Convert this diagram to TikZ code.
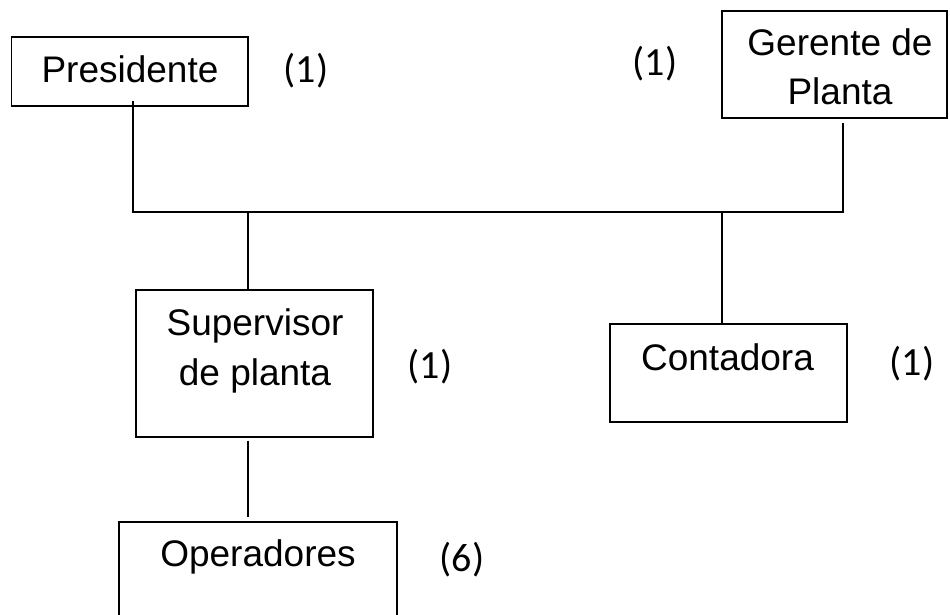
\documentclass[tikz,border=0pt]{standalone}
\usepackage{fontspec}
\setmainfont{Liberation Sans}
\newfontfamily\numfont{Carlito}
\begin{document}
\begin{tikzpicture}[x=1pt,y=-1pt,
  box/.style={draw=black,line width=1.8pt,minimum width=#1,inner sep=0pt,outer sep=0pt},
  lbl/.style={anchor=base,inner sep=0pt,font=\fontsize{37}{44}\selectfont},
  cnt/.style={anchor=base,inner sep=0pt,font=\numfont\fontsize{40}{48}\selectfont},
  conn/.style={draw=black,line width=1.8pt}]
\clip (0,0) rectangle (950,614);
% boxes
\node[box=236.5pt,minimum height=69pt] (pres) at (129.75,71.5) {};
\node[box=225.3pt,minimum height=107pt] (ger) at (834.35,64.2) {};
\node[box=237.3pt,minimum height=146.7pt] (sup) at (254.35,363.35) {};
\node[box=236.7pt,minimum height=97.4pt] (con) at (728.35,373) {};
\node[box=277.7pt,minimum height=118.3pt] (op) at (257.85,580.85) {};
% texts
\node[lbl] (tpres) at (130,82.7) {Presidente};
\node[lbl] (tger1) at (840,55) {Gerente de};
\node[lbl] (tger2) at (840,104) {Planta};
\node[lbl] (tsup1) at (255,335) {Supervisor};
\node[lbl] (tsup2) at (255,385) {de planta};
\node[lbl] (tcon) at (727.5,370) {Contadora};
\node[lbl] (top) at (258,566.7) {Operadores};
% counts
\node[cnt] (n1) at (306,82.7) {(1)};
\node[cnt] (n2) at (655,75) {(1)};
\node[cnt] (n3) at (430,378) {(1)};
\node[cnt] (n4) at (912,375) {(1)};
\node[cnt] (n5) at (462,571.7) {(6)};
% bus coordinates
\coordinate (b1) at (133,212);
\coordinate (b2) at (247.7,212);
\coordinate (b3) at (722,212);
\coordinate (b4) at (843,212);
% connectors
\draw[conn] ([yshift=5pt]pres.south -| b1) -- (b1) -- (b4) -- ([yshift=-5pt]ger.south -| b4);
\draw[conn] (b2) -- (sup.north -| b2);
\draw[conn] (b3) -- (con.north -| b3);
\draw[conn,shorten <=4pt,shorten >=5pt] (sup.south -| b2) -- (op.north -| b2);
\end{tikzpicture}
\end{document}
